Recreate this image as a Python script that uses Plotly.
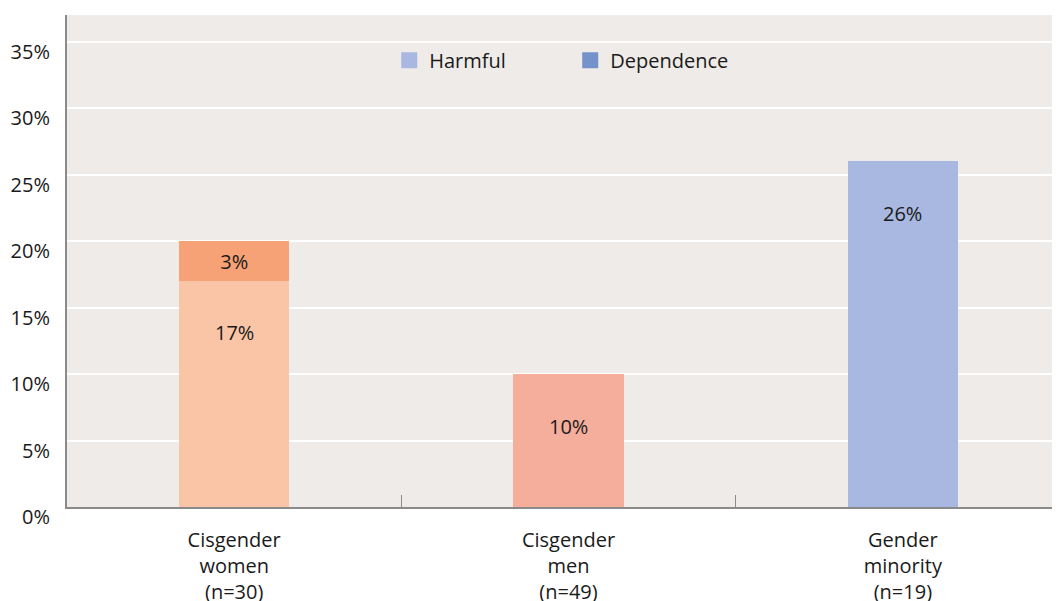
import plotly.graph_objects as go

# ---- data ----
categories = ["Cisgender<br>women<br>(n=30)", "Cisgender<br>men<br>(n=49)", "Gender<br>minority<br>(n=19)"]
harmful = [0.17, 0.10, 0.26]
dependence = [0.03, 0.0, 0.0]
harmful_colors = ["#F9C5A6", "#F6AE9C", "#A8B8E0"]
dependence_colors = ["#F7A176", "#F59A86", "#7592CB"]
legend_names = ["Harmful", "Dependence"]
legend_colors = ["#A8B8E0", "#7592CB"]
y_tick_vals = [0, 0.05, 0.10, 0.15, 0.20, 0.25, 0.30, 0.35]
y_tick_text = ["0%", "5%", "10%", "15%", "20%", "25%", "30%", "35%"]

FONT = "'Open Sans', Lato, sans-serif"
TXT = "#1a1a1a"
FS = 20

fig = go.Figure()

fig.add_trace(go.Bar(
    x=categories, y=harmful, name="Harmful",
    marker=dict(color=harmful_colors, line=dict(width=0)),
    width=0.33, showlegend=False, hoverinfo="skip",
))
fig.add_trace(go.Bar(
    x=categories, y=dependence, name="Dependence",
    marker=dict(color=dependence_colors, line=dict(width=0)),
    width=0.33, showlegend=False, hoverinfo="skip",
    text=[f"{round(v*100)}%" if v > 0 else "" for v in dependence],
    textposition="inside", insidetextanchor="middle",
    textfont=dict(family=FONT, size=FS, color=TXT),
))

# legend entries
for name, col in zip(legend_names, legend_colors):
    fig.add_trace(go.Scatter(
        x=[None], y=[None], mode="markers", name=name,
        marker=dict(symbol="square", size=16, color=col),
        showlegend=True,
    ))

# labels for harmful segments, placed below the top of each bar
for c, v in zip(categories, harmful):
    fig.add_annotation(
        x=c, y=v, text=f"{round(v*100)}%", showarrow=False,
        yshift=-52, yanchor="middle",
        font=dict(family=FONT, size=FS, color=TXT),
    )

fig.update_layout(
    width=1060, height=601,
    barmode="stack",
    paper_bgcolor="white",
    plot_bgcolor="#EFEBE8",
    margin=dict(l=59, r=8, t=7, b=102, autoexpand=False),
    font=dict(family=FONT, size=FS, color=TXT),
    legend=dict(
        orientation="h", x=0.3245, xanchor="left", y=0.908, yanchor="middle",
        traceorder="normal",
        bgcolor="rgba(0,0,0,0)", font=dict(family=FONT, size=FS, color=TXT),
        entrywidth=136, entrywidthmode="pixels",
    ),
    xaxis=dict(
        type="category", automargin=False,
        range=[-0.5, 2.47],
        showline=True, linecolor="#8a8a8a", linewidth=2,
        showgrid=False, zeroline=False,
        ticks="inside", tickson="boundaries", ticklen=12, tickcolor="#8a8a8a", tickwidth=1,
        ticklabelstandoff=14,
        tickfont=dict(family=FONT, size=FS, color=TXT),
    ),
    yaxis=dict(
        range=[0, 0.37], automargin=False,
        tickvals=y_tick_vals, ticktext=y_tick_text,
        showline=True, linecolor="#8a8a8a", linewidth=2,
        showgrid=True, gridcolor="white", gridwidth=2,
        zeroline=False,
        ticks="", ticklabelstandoff=11, ticklabelshift=10,
        tickfont=dict(family=FONT, size=FS, color=TXT),
    ),
)

fig.write_html("out.html")
